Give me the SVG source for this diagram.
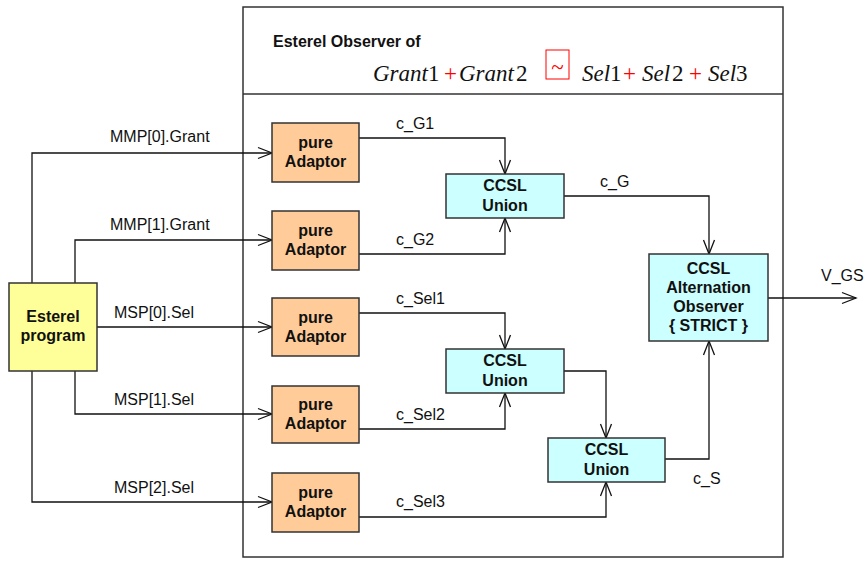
<svg xmlns="http://www.w3.org/2000/svg" width="865" height="561" viewBox="0 0 865 561">
<style>
  .lbl { font-family: "Liberation Sans", Arial, sans-serif; font-size: 16px; fill: #111; }
  .nt { font-family: "Liberation Sans", Arial, sans-serif; font-size: 16px; font-weight: bold; fill: #111; text-anchor: middle; }
  .box { stroke: #333; stroke-width: 1.5; }
  .adaptor { fill: #FFCC99; }
  .ccsl { fill: #CCFFFF; }
  .prog { fill: #FFFF99; }
  .conn { fill: none; stroke: #111; stroke-width: 1.3; }
  .math { font-family: "Liberation Serif", "Times New Roman", serif; font-size: 23px; fill: #111; }
  .it { font-style: italic; }
  .red { fill: #FF0000; }
</style>
<defs>
  <marker id="arr" markerUnits="userSpaceOnUse" markerWidth="18" markerHeight="14" refX="15" refY="7" orient="auto">
    <path d="M1,1.5 L15,7 L1,12.5" fill="none" stroke="#111" stroke-width="1.3"/>
  </marker>
</defs>
<rect x="0" y="0" width="865" height="561" fill="#fff"/>

<g id="observer">
  <rect x="243" y="7" width="540" height="550" fill="none" stroke="#333" stroke-width="1.5"/>
  <line x1="243" y1="94" x2="783" y2="94" stroke="#333" stroke-width="1.5"/>
  <text x="273" y="47" class="lbl" style="font-weight:bold">Esterel Observer of</text>
  <text y="81" class="math"><tspan x="373" class="it">Grant</tspan><tspan>1</tspan><tspan x="444" class="red">+</tspan><tspan x="459" class="it">Grant</tspan><tspan dx="2">2</tspan><tspan x="582" class="it">Sel</tspan><tspan>1</tspan><tspan x="623" class="red">+</tspan><tspan x="642" class="it">Sel</tspan><tspan dx="2">2</tspan><tspan x="689" class="red">+</tspan><tspan x="708" class="it">Sel</tspan><tspan>3</tspan></text>
  <rect x="546" y="50" width="23" height="29" fill="none" stroke="#FF0000" stroke-width="1"/>
  <text x="557.5" y="75" class="math red" style="text-anchor:middle">~</text>
</g>

<g id="connectors">
  <polyline class="conn" points="32,283 32,153 272,153" marker-end="url(#arr)"/>
  <polyline class="conn" points="75,283 75,240 272,240" marker-end="url(#arr)"/>
  <polyline class="conn" points="97,327 272,327" marker-end="url(#arr)"/>
  <polyline class="conn" points="75,371 75,414 272,414" marker-end="url(#arr)"/>
  <polyline class="conn" points="32,371 32,502 272,502" marker-end="url(#arr)"/>
  <polyline class="conn" points="359,138 505,138 505,174" marker-end="url(#arr)"/>
  <polyline class="conn" points="359,254 505,254 505,218" marker-end="url(#arr)"/>
  <polyline class="conn" points="359,313 505,313 505,349" marker-end="url(#arr)"/>
  <polyline class="conn" points="359,429 505,429 505,393" marker-end="url(#arr)"/>
  <polyline class="conn" points="359,517 606,517 606,482" marker-end="url(#arr)"/>
  <polyline class="conn" points="564,196 709,196 709,254" marker-end="url(#arr)"/>
  <polyline class="conn" points="564,371 606,371 606,438" marker-end="url(#arr)"/>
  <polyline class="conn" points="665,459 709,459 709,341" marker-end="url(#arr)"/>
  <polyline class="conn" points="768,298 856,298" marker-end="url(#arr)"/>
  <text x="110" y="142" class="lbl">MMP[0].Grant</text>
  <text x="110" y="230" class="lbl">MMP[1].Grant</text>
  <text x="114" y="318" class="lbl">MSP[0].Sel</text>
  <text x="114" y="405" class="lbl">MSP[1].Sel</text>
  <text x="114" y="493" class="lbl">MSP[2].Sel</text>
  <text x="396" y="129" class="lbl">c_G1</text>
  <text x="396" y="245" class="lbl">c_G2</text>
  <text x="396" y="304" class="lbl">c_Sel1</text>
  <text x="396" y="420" class="lbl">c_Sel2</text>
  <text x="396" y="507" class="lbl">c_Sel3</text>
  <text x="600" y="187" class="lbl">c_G</text>
  <text x="693" y="484" class="lbl">c_S</text>
  <text x="821" y="281" class="lbl">V_GS</text>
</g>

<g id="esterel-program">
  <rect x="9" y="283" width="88" height="88" class="box prog"/>
  <text x="53" y="322" class="nt">Esterel</text>
  <text x="53" y="341" class="nt">program</text>
</g>

<g id="adaptor1">
  <rect x="272" y="123" width="87" height="59" class="box adaptor"/>
  <text x="315.5" y="148" class="nt">pure</text>
  <text x="315.5" y="167" class="nt">Adaptor</text>
</g>
<g id="adaptor2">
  <rect x="272" y="211" width="87" height="59" class="box adaptor"/>
  <text x="315.5" y="236" class="nt">pure</text>
  <text x="315.5" y="255" class="nt">Adaptor</text>
</g>
<g id="adaptor3">
  <rect x="272" y="298" width="87" height="58" class="box adaptor"/>
  <text x="315.5" y="323" class="nt">pure</text>
  <text x="315.5" y="342" class="nt">Adaptor</text>
</g>
<g id="adaptor4">
  <rect x="272" y="386" width="87" height="57" class="box adaptor"/>
  <text x="315.5" y="410" class="nt">pure</text>
  <text x="315.5" y="429" class="nt">Adaptor</text>
</g>
<g id="adaptor5">
  <rect x="272" y="473" width="87" height="59" class="box adaptor"/>
  <text x="315.5" y="498" class="nt">pure</text>
  <text x="315.5" y="517" class="nt">Adaptor</text>
</g>

<g id="union1">
  <rect x="446" y="174" width="118" height="44" class="box ccsl"/>
  <text x="505" y="191" class="nt">CCSL</text>
  <text x="505" y="211" class="nt">Union</text>
</g>
<g id="union2">
  <rect x="446" y="349" width="118" height="44" class="box ccsl"/>
  <text x="505" y="366" class="nt">CCSL</text>
  <text x="505" y="386" class="nt">Union</text>
</g>
<g id="union3">
  <rect x="548" y="438" width="117" height="44" class="box ccsl"/>
  <text x="606.5" y="455" class="nt">CCSL</text>
  <text x="606.5" y="475" class="nt">Union</text>
</g>
<g id="alternation">
  <rect x="649" y="254" width="119" height="87" class="box ccsl"/>
  <text x="708.5" y="274" class="nt">CCSL</text>
  <text x="708.5" y="293" class="nt">Alternation</text>
  <text x="708.5" y="312" class="nt">Observer</text>
  <text x="708.5" y="331" class="nt">{ STRICT }</text>
</g>
</svg>
